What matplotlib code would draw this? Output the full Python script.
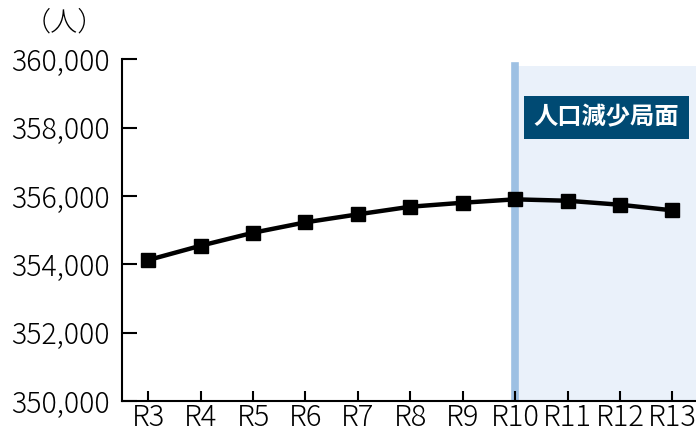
import matplotlib
matplotlib.use('Agg')
import matplotlib.pyplot as plt
from matplotlib.patches import Rectangle
from matplotlib.ticker import FuncFormatter

plt.rcParams['font.family'] = ['Noto Sans CJK JP', 'DejaVu Sans']

# データ
years = ['R3', 'R4', 'R5', 'R6', 'R7', 'R8', 'R9', 'R10', 'R11', 'R12', 'R13']
population = [354126, 354545, 354925, 355230, 355464, 355687,
              355804, 355903, 355862, 355745, 355581]
decline_start = 'R10'
decline_label = '人口減少局面'
unit_label = '（人）'

fig = plt.figure(figsize=(6.96, 4.32), dpi=100)
ax = fig.add_axes([0.1753, 0.0718, 0.8247, 0.7907])

x = list(range(len(years)))
i0 = years.index(decline_start)

# 人口減少局面の網掛け
ax.axvspan(i0, 10.45, ymin=0, ymax=0.98, color='#eaf1fa', lw=0, zorder=0)
ax.axvline(i0, ymin=0, ymax=0.98, color='#9dc0e3', lw=5.5, zorder=1)

ax.plot(x, population, color='black', lw=3.2, marker='s', markersize=9.5, zorder=3)

ax.set_xlim(-0.5, 10.45)
ax.set_ylim(350000, 360000)
ax.set_yticks(range(350000, 360001, 2000))
ax.yaxis.set_major_formatter(FuncFormatter(lambda v, p: f'{int(v):,}'))
ax.set_xticks(x)
ax.set_xticklabels(years)

for s in ['top', 'right']:
    ax.spines[s].set_visible(False)
for s in ['left', 'bottom']:
    ax.spines[s].set_linewidth(1.5)
    ax.spines[s].set_zorder(4)

ax.tick_params(axis='y', direction='in', length=11, width=1.5, labelsize=20.5, pad=9)
ax.tick_params(axis='x', direction='in', length=7, width=1.5, labelsize=21, pad=1)
for lab in ax.get_xticklabels() + ax.get_yticklabels():
    lab.set_fontweight('light')

# ラベル
box = Rectangle((0.7529, 0.6782), 0.2371, 0.0995, transform=fig.transFigure,
                facecolor='#004a73', edgecolor='none', zorder=5)
fig.patches.append(box)
fig.text(0.7529 + 0.2371 / 2, 0.6782 + 0.0995 / 2, decline_label, color='white',
         fontsize=17.5, fontweight='bold', ha='center', va='center', zorder=6)

fig.text(0.092, 0.947, unit_label, fontsize=19.5, fontweight='light',
         ha='center', va='center')

fig.savefig('out.png', dpi=100)
